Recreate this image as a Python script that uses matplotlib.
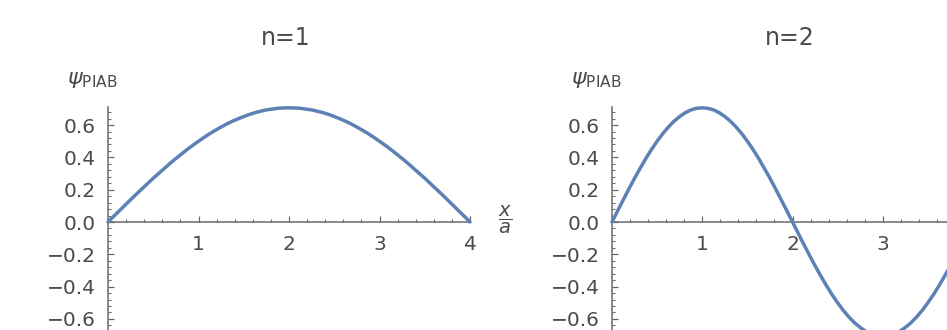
import matplotlib
matplotlib.use("Agg")
import matplotlib.pyplot as plt
from matplotlib.ticker import MultipleLocator, FixedLocator

# particle-in-a-box wavefunctions, box length a = 4, sampled every 0.0625
x_over_a = [0.0, 0.0625, 0.125, 0.1875, 0.25, 0.3125, 0.375, 0.4375,
            0.5, 0.5625, 0.625, 0.6875, 0.75, 0.8125, 0.875, 0.9375,
            1.0, 1.0625, 1.125, 1.1875, 1.25, 1.3125, 1.375, 1.4375,
            1.5, 1.5625, 1.625, 1.6875, 1.75, 1.8125, 1.875, 1.9375,
            2.0, 2.0625, 2.125, 2.1875, 2.25, 2.3125, 2.375, 2.4375,
            2.5, 2.5625, 2.625, 2.6875, 2.75, 2.8125, 2.875, 2.9375,
            3.0, 3.0625, 3.125, 3.1875, 3.25, 3.3125, 3.375, 3.4375,
            3.5, 3.5625, 3.625, 3.6875, 3.75, 3.8125, 3.875, 3.9375, 4.0]

psi_n1 = [0.000, 0.035, 0.069, 0.104, 0.138, 0.172, 0.205, 0.238,
          0.271, 0.302, 0.333, 0.364, 0.393, 0.421, 0.449, 0.475,
          0.500, 0.524, 0.547, 0.568, 0.588, 0.607, 0.624, 0.639,
          0.653, 0.666, 0.677, 0.686, 0.694, 0.699, 0.704, 0.706,
          0.707, 0.706, 0.704, 0.699, 0.694, 0.686, 0.677, 0.666,
          0.653, 0.639, 0.624, 0.607, 0.588, 0.568, 0.547, 0.524,
          0.500, 0.475, 0.449, 0.421, 0.393, 0.364, 0.333, 0.302,
          0.271, 0.238, 0.205, 0.172, 0.138, 0.104, 0.069, 0.035, 0.000]

psi_n2 = [0.000, 0.069, 0.138, 0.205, 0.271, 0.333, 0.393, 0.449,
          0.500, 0.547, 0.588, 0.624, 0.653, 0.677, 0.694, 0.704,
          0.707, 0.704, 0.694, 0.677, 0.653, 0.624, 0.588, 0.547,
          0.500, 0.449, 0.393, 0.333, 0.271, 0.205, 0.138, 0.069,
          0.000, -0.069, -0.138, -0.205, -0.271, -0.333, -0.393, -0.449,
          -0.500, -0.547, -0.588, -0.624, -0.653, -0.677, -0.694, -0.704,
          -0.707, -0.704, -0.694, -0.677, -0.653, -0.624, -0.588, -0.547,
          -0.500, -0.449, -0.393, -0.333, -0.271, -0.205, -0.138, -0.069, 0.000]

titles = ["n=1", "n=2"]
x_ticks = [1, 2, 3, 4]
y_ticks = [-0.6, -0.4, -0.2, 0.0, 0.2, 0.4, 0.6]

line_color = "#5E81B5"
axis_color = "#6a6a6a"
text_color = "#4a4a4a"

W, H = 947, 330
fig = plt.figure(figsize=(W / 100, H / 100), dpi=100)

# axes boxes in pixels: left, top (of y range), width, height
boxes = [(108, 107, 362, 230), (612, 107, 361, 230)]

for i, (psi, title) in enumerate(zip([psi_n1, psi_n2], titles)):
    left, top, w, h = boxes[i]
    ax = fig.add_axes([left / W, (H - top - h) / H, w / W, h / H])
    ax.plot(x_over_a, psi, color=line_color, lw=2.5, solid_capstyle="round",
            solid_joinstyle="round", clip_on=False, zorder=3)
    ax.set_xlim(0, 4)
    ax.set_ylim(-0.712, 0.712)

    for side in ("top", "right"):
        ax.spines[side].set_visible(False)
    ax.spines["left"].set_position(("data", 0))
    ax.spines["bottom"].set_position(("data", 0))
    for side in ("left", "bottom"):
        ax.spines[side].set_color(axis_color)
        ax.spines[side].set_linewidth(1.1)

    # the right panel runs past the figure edge, only label ticks that fit
    right_px = W if left + w > W else left + w + 60
    shown = [t for t in x_ticks if left + t * w / 4 < right_px - 10]
    ax.xaxis.set_major_locator(FixedLocator(shown))
    ax.xaxis.set_minor_locator(MultipleLocator(0.2))
    ax.yaxis.set_major_locator(FixedLocator(y_ticks))
    ax.yaxis.set_minor_locator(MultipleLocator(0.04))
    ax.set_xticklabels([str(t) for t in shown])
    ax.set_yticklabels([f"{t:.1f}".replace("-", "\u2212") for t in y_ticks])

    ax.tick_params(which="both", direction="in", color=axis_color,
                   labelcolor=text_color, labelsize=14.5, pad=9)
    ax.tick_params(which="major", length=4.5, width=0.9)
    ax.tick_params(which="minor", length=2.2, width=0.8)
    ax.patch.set_alpha(0)

    # panel title and vertical axis label
    fig.text((left + w / 2 - 3) / W, 1 - 38 / H, title, ha="center",
             va="center", fontsize=17, color=text_color)
    fig.text((left - 41) / W, 1 - 80 / H, r"$\psi_{\mathrm{PIAB}}$",
             ha="left", va="center", fontsize=16, color=text_color)
    # horizontal axis label at the end of the x axis, when it is in view
    if left + w + 50 < W:
        fig.text((left + w + 35) / W, 1 - 220 / H, r"$\dfrac{x}{a}$",
                 ha="center", va="center", fontsize=14, color=text_color)

fig.savefig("out.png", dpi=100)
